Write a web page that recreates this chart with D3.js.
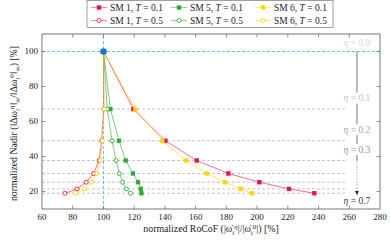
<!DOCTYPE html>
<html><head><meta charset="utf-8">
<script src="https://cdn.jsdelivr.net/npm/d3@7"></script>
<style>
body{margin:0;background:#fff}
svg{display:block}
text{font-family:"Liberation Serif","DejaVu Serif",serif;fill:#222}
</style>
</head><body>
<svg id="c" width="390" height="241"></svg>
<script>
// ---------------- data ----------------
const eta    = [0.0, 0.1, 0.2, 0.3, 0.4, 0.5, 0.6, 0.7];
const nadir  = [100, 67.1, 49.0, 37.7, 30.3, 25.3, 21.5, 19.0];   // normalized nadir [%] per eta
const sm1T01 = [100, 119.5, 140.3, 160.7, 181.3, 201.5, 220.8, 237.3]; // normalized RoCoF [%]
const sm5T01 = [100, 104.5, 110.1, 114.5, 119.2, 122.5, 124.3, 124.7];
const sm6T01 = [100, 120.8, 138.3, 153.8, 167.2, 179.1, 189.3, 196.7];
const sm1T05 = [100, 100.2, 98.8, 97.2, 93.6, 88.8, 82.8, 74.9];
const sm5T05 = [100, 102.5, 105.6, 108.2, 110.3, 112.5, 114.9, 117.6];
const sm6T05 = [100, 100.4, 99.2, 98.0, 95.5, 92.2, 87.8, 81.8];
const xTicks = [60, 80, 100, 120, 140, 160, 180, 200, 220, 240, 260, 280];
const yTicks = [20, 40, 60, 80, 100];
const etaLabels = [0.0, 0.1, 0.2, 0.3, 0.7];
const refPoint = [100, 100];

// ---------------- setup ----------------
const svg = d3.select("#c");
const x = d3.scaleLinear().domain([60, 280]).range([42, 380]);
const y = d3.scaleLinear().domain([10, 110]).range([209, 34]);
const RED = "#e2164e", GREEN = "#36a93a", YELLOW = "#fbd600", BLUE = "#1479cc", LBLUE = "#5fb6e4";

const series = [
  {sm:"SM 1", T:"0.1", vals:sm1T01, color:RED,    mark:"square"},
  {sm:"SM 5", T:"0.1", vals:sm5T01, color:GREEN,  mark:"square"},
  {sm:"SM 6", T:"0.1", vals:sm6T01, color:YELLOW, mark:"square"},
  {sm:"SM 1", T:"0.5", vals:sm1T05, color:RED,    mark:"circle"},
  {sm:"SM 5", T:"0.5", vals:sm5T05, color:GREEN,  mark:"circle"},
  {sm:"SM 6", T:"0.5", vals:sm6T05, color:YELLOW, mark:"circle"}
];

// eta reference lines (gray dashed)
const etaX0 = 60, etaX1 = 258, etaArrowX = 265;
svg.append("g").selectAll("line").data(nadir.slice(1)).join("line")
  .attr("x1", x(etaX0)).attr("x2", x(etaX1))
  .attr("y1", d => y(d)).attr("y2", d => y(d))
  .attr("stroke", "#b4b4b4").attr("stroke-width", 0.8).attr("stroke-dasharray", "3,2");

// blue reference lines
svg.append("line").attr("x1", x(60)).attr("x2", x(280)).attr("y1", y(refPoint[1])).attr("y2", y(refPoint[1]))
  .attr("stroke", LBLUE).attr("stroke-width", 0.9).attr("stroke-dasharray", "3,2");
svg.append("line").attr("x1", x(refPoint[0])).attr("x2", x(refPoint[0])).attr("y1", y(10)).attr("y2", y(110))
  .attr("stroke", LBLUE).attr("stroke-width", 0.9).attr("stroke-dasharray", "3,2");

// arrow
const defs = svg.append("defs");
defs.append("marker").attr("id", "ah").attr("viewBox", "0 0 10 10").attr("refX", 9).attr("refY", 5)
  .attr("markerWidth", 5).attr("markerHeight", 5).attr("orient", "auto")
  .append("path").attr("d", "M0,0 L10,5 L0,10 z").attr("fill", "#333");
svg.append("line").attr("x1", x(etaArrowX)).attr("x2", x(etaArrowX))
  .attr("y1", y(nadir[0])).attr("y2", y(nadir[3]))
  .attr("stroke", "#666").attr("stroke-width", 0.9);
svg.append("line").attr("x1", x(etaArrowX)).attr("x2", x(etaArrowX))
  .attr("y1", y(nadir[3])).attr("y2", y(nadir[7]) + 1.5)
  .attr("stroke", "#555").attr("stroke-width", 0.9).attr("stroke-dasharray", "0.8,2.2")
  .attr("marker-end", "url(#ah)");

// eta labels with white background
const etaColor = d3.scaleLinear().domain([0, 0.7]).range(["#d6d6d6", "#3a3a3a"]);
etaLabels.forEach(e => {
  const i = eta.indexOf(e);
  const off = e === 0.7 ? 8 : (e === 0 ? -9 : -11);
  const cy = y(nadir[i]) + off;
  const g = svg.append("g").attr("transform", `translate(${x(etaArrowX)},${cy})`);
  g.append("rect").attr("x", -16).attr("y", -5.5).attr("width", 32).attr("height", 11).attr("fill", "#fff");
  const t = g.append("text").attr("text-anchor", "middle").attr("dy", "0.33em")
    .attr("font-size", 9.5).style("fill", etaColor(e));
  t.append("tspan").attr("font-style", "italic").text("η");
  t.append("tspan").text(" = " + e.toFixed(1));
});

// series
const line = d3.line().x(d => x(d[0])).y(d => y(d[1]));
series.forEach(s => {
  const pts = s.vals.map((v, i) => [v, nadir[i]]);
  svg.append("path").datum(pts).attr("d", line).attr("fill", "none")
    .attr("stroke", s.color).attr("stroke-opacity", 0.7).attr("stroke-width", 0.9);
  const g = svg.append("g");
  if (s.mark === "square") {
    g.selectAll("rect").data(pts.slice(1)).join("rect")
      .attr("x", d => x(d[0]) - 2.2).attr("y", d => y(d[1]) - 2.2)
      .attr("width", 4.4).attr("height", 4.4).attr("fill", s.color);
  } else {
    g.selectAll("circle").data(pts.slice(1)).join("circle")
      .attr("cx", d => x(d[0])).attr("cy", d => y(d[1])).attr("r", 2)
      .attr("fill", "#fff").attr("stroke", s.color).attr("stroke-width", 0.9);
  }
});

// reference dot
svg.append("circle").attr("cx", x(refPoint[0])).attr("cy", y(refPoint[1])).attr("r", 3.3).attr("fill", BLUE);

// axes frame + ticks
const AX = "#666";
svg.append("rect").attr("x", x(60)).attr("y", y(110)).attr("width", x(280) - x(60)).attr("height", y(10) - y(110))
  .attr("fill", "none").attr("stroke", AX).attr("stroke-width", 0.9);
const tl = 3.5;
const gx = svg.append("g");
gx.selectAll("line.b").data(xTicks.slice(1, -1)).join("line").attr("class", "b")
  .attr("x1", d => x(d)).attr("x2", d => x(d)).attr("y1", y(10)).attr("y2", y(10) - tl)
  .attr("stroke", AX).attr("stroke-width", 0.7);
gx.selectAll("line.t").data(xTicks.slice(1, -1)).join("line").attr("class", "t")
  .attr("x1", d => x(d)).attr("x2", d => x(d)).attr("y1", y(110)).attr("y2", y(110) + tl)
  .attr("stroke", AX).attr("stroke-width", 0.7);
gx.selectAll("text").data(xTicks).join("text")
  .attr("x", d => x(d)).attr("y", y(10) + 10.5).attr("text-anchor", "middle")
  .attr("font-size", 9).text(d => d);
const gy = svg.append("g");
gy.selectAll("line.l").data(yTicks).join("line").attr("class", "l")
  .attr("x1", x(60)).attr("x2", x(60) + tl).attr("y1", d => y(d)).attr("y2", d => y(d))
  .attr("stroke", AX).attr("stroke-width", 0.7);
gy.selectAll("line.r").data(yTicks).join("line").attr("class", "r")
  .attr("x1", x(280)).attr("x2", x(280) - tl).attr("y1", d => y(d)).attr("y2", d => y(d))
  .attr("stroke", AX).attr("stroke-width", 0.7);
gy.selectAll("text").data(yTicks).join("text")
  .attr("x", x(60) - 4).attr("y", d => y(d)).attr("dy", "0.33em").attr("text-anchor", "end")
  .attr("font-size", 9).text(d => d);

// axis labels (sub/superscripts placed side by side)
const LF = 9.8, SF = 7;
const xl = svg.append("text").attr("x", (x(60) + x(280)) / 2).attr("y", 232).attr("text-anchor", "middle").attr("font-size", LF);
xl.append("tspan").text("normalized RoCoF (|ω̇");
xl.append("tspan").attr("font-size", SF).attr("dy", 2.5).attr("font-style", "italic").text("i");
xl.append("tspan").attr("font-size", SF).attr("dy", -6).attr("font-style", "italic").text("η");
xl.append("tspan").attr("dy", 3.5).text("|/|ω̇");
xl.append("tspan").attr("font-size", SF).attr("dy", 2.5).attr("font-style", "italic").text("i");
xl.append("tspan").attr("font-size", SF).attr("dy", -6).text("0");
xl.append("tspan").attr("dy", 3.5).text("|) [%]");

const yl = svg.append("text").attr("transform", `translate(17,${(y(10) + y(110)) / 2 + 2}) rotate(-90)`)
  .attr("text-anchor", "middle").attr("font-size", LF);
yl.append("tspan").text("normalized Nadir (‖Δω");
yl.append("tspan").attr("font-size", SF).attr("dy", 2.5).attr("font-style", "italic").text("i");
yl.append("tspan").attr("font-size", SF).attr("dy", -6).attr("font-style", "italic").text("η");
yl.append("tspan").attr("dy", 3.5).text("‖");
yl.append("tspan").attr("font-size", SF).attr("dy", 2.5).text("∞");
yl.append("tspan").attr("dy", -2.5).text("/‖Δω");
yl.append("tspan").attr("font-size", SF).attr("dy", 2.5).attr("font-style", "italic").text("i");
yl.append("tspan").attr("font-size", SF).attr("dy", -6).text("0");
yl.append("tspan").attr("dy", 3.5).text("‖");
yl.append("tspan").attr("font-size", SF).attr("dy", 2.5).text("∞");
yl.append("tspan").attr("dy", -2.5).text(") [%]");

// legend
const lg = svg.append("g");
lg.append("rect").attr("x", 87).attr("y", 0.5).attr("width", 246).attr("height", 27)
  .attr("fill", "#fff").attr("stroke", "#888").attr("stroke-width", 0.8);
const colX = [91, 171, 255], rowY = [7.5, 20.5];
series.forEach((s, k) => {
  const cx = colX[k % 3], cy = rowY[Math.floor(k / 3)];
  lg.append("line").attr("x1", cx).attr("x2", cx + 16).attr("y1", cy).attr("y2", cy)
    .attr("stroke", s.color).attr("stroke-opacity", 0.5).attr("stroke-width", 1.2);
  if (s.mark === "square") {
    lg.append("rect").attr("x", cx + 8 - 2.2).attr("y", cy - 2.2).attr("width", 4.4).attr("height", 4.4).attr("fill", s.color);
  } else {
    lg.append("circle").attr("cx", cx + 8).attr("cy", cy).attr("r", 2).attr("fill", "#fff")
      .attr("stroke", s.color).attr("stroke-width", 0.9);
  }
  const t = lg.append("text").attr("x", cx + 19).attr("y", cy).attr("dy", "0.33em").attr("font-size", 9.5);
  t.append("tspan").text(s.sm + ", ");
  t.append("tspan").attr("font-style", "italic").text("T");
  t.append("tspan").text(" = " + s.T);
});
</script>
</body></html>
